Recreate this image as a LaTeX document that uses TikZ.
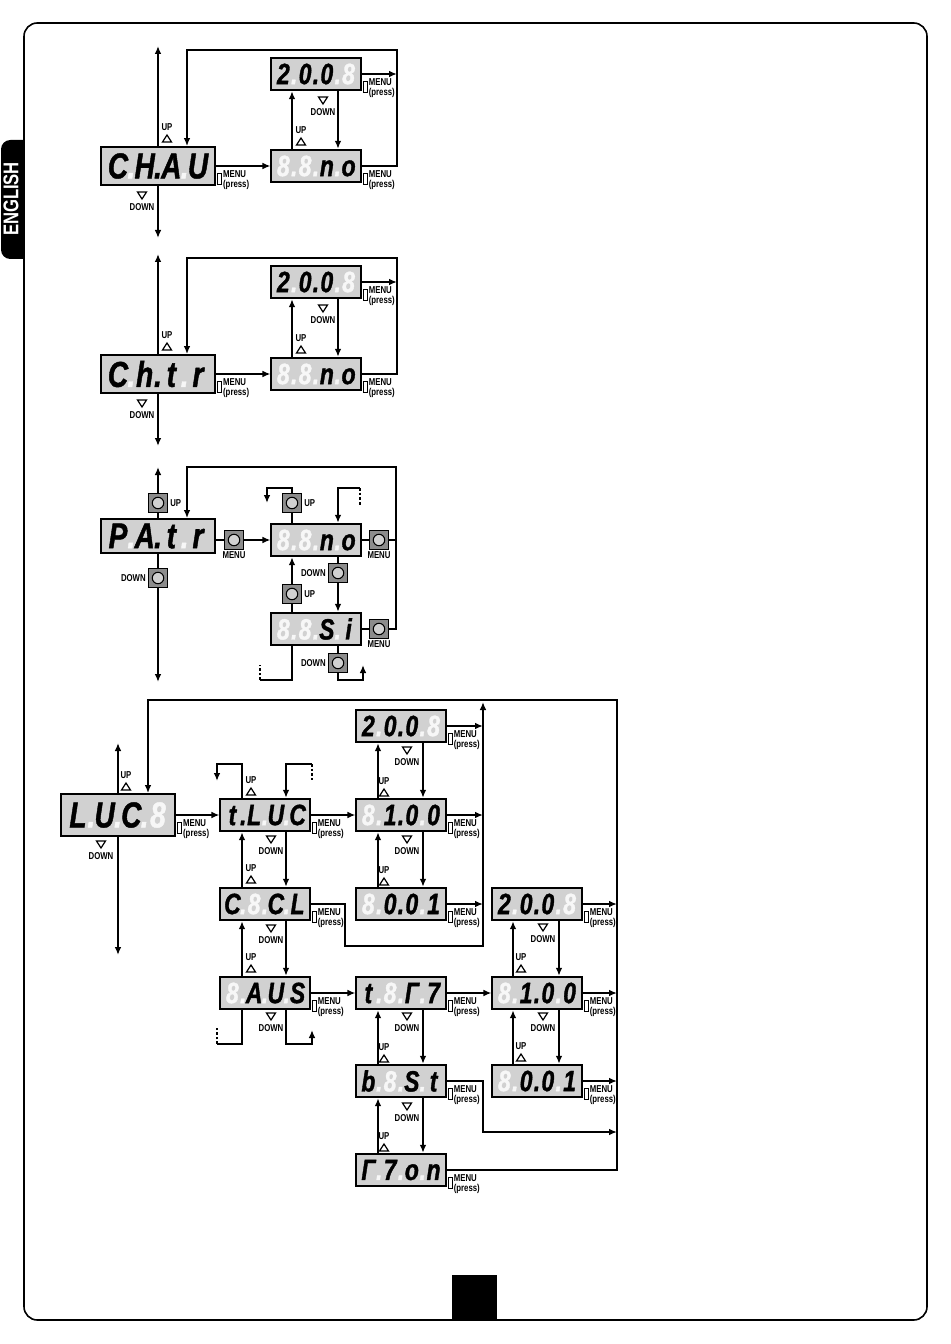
\documentclass[tikz,border=0pt]{standalone}
\usepackage{fontspec}
\setmainfont{Liberation Sans}
\newfontfamily\segfont[FakeStretch=0.78,FakeBold=1.2]{Liberation Sans}
\newfontfamily\lblfont[FakeStretch=0.78]{Liberation Sans}
\usetikzlibrary{arrows.meta,calc}
\definecolor{dispbg}{gray}{0.82}
\definecolor{unlit}{gray}{0.97}
\definecolor{btnbg}{gray}{0.55}
\definecolor{btnin}{gray}{0.82}
\newlength\cw \newlength\dw
\newcommand\segl[1]{\makebox[\cw][c]{#1}}
\newcommand\segu{\makebox[\cw][c]{\color{unlit}8}}
\newcommand\segD{\makebox[\dw][c]{.}}
\newcommand\segd{\makebox[\dw][c]{\color{unlit}.}}
\newcommand\bigseg{\segfont\bfseries\itshape\fontsize{27}{27}\selectfont\setlength\cw{15pt}\setlength\dw{5pt}}
\newcommand\smallseg{\segfont\bfseries\itshape\fontsize{22}{22}\selectfont\setlength\cw{12.3pt}\setlength\dw{4pt}}
\newcounter{lc}
\newcommand\UPl[2]{\stepcounter{lc}\node[lbl] (lab\the\value{lc}) at (#1,#2) {UP};
 \draw[tri] (#1-4.5,#2+15) -- (#1,#2+8) -- (#1+4.5,#2+15) -- cycle;}
\newcommand\DNl[2]{\stepcounter{lc}\node[lbl] (lab\the\value{lc}) at (#1,#2) {DOWN};
 \draw[tri] (#1-4.5,#2-15) -- (#1,#2-8) -- (#1+4.5,#2-15) -- cycle;}
\newcommand\menulbl[1]{\node[mlbl] (ml#1) at ($(#1.east)+(7,14)$) {MENU\\(press)};
 \draw[line width=0.7pt,fill=white] ($(ml#1.west)+(-5,-7)$) rectangle ($(ml#1.west)+(-1.5,4)$);}
\tikzset{
 ln/.style={line width=1.3pt},
 arr/.style={line width=1.3pt,-{Latex[length=6pt,width=5pt]}},
 dsh/.style={line width=1.3pt,dash pattern=on 2pt off 1.5pt},
 mdisp/.style={draw,line width=1.3pt,fill=dispbg,minimum width=85.5pt,minimum height=28.5pt,inner sep=0pt,font=\bigseg},
 sdisp/.style={draw,line width=1.3pt,fill=dispbg,minimum width=67pt,minimum height=24.5pt,inner sep=0pt,font=\smallseg},
 lbl/.style={font=\lblfont\bfseries\fontsize{7.5}{7.6}\selectfont,inner sep=0pt},
 mlbl/.style={lbl,anchor=west,align=left},
 tri/.style={line width=0.9pt,line join=miter},
 btn/.style={draw,line width=1pt,fill=btnbg,minimum size=14pt,inner sep=0pt,
   path picture={\draw[line width=0.8pt,fill=btnin] (path picture bounding box.center) circle[radius=4.3pt];}},
}
\begin{document}
\begin{tikzpicture}[x=0.75pt,y=-0.75pt]
\useasboundingbox (0,0) rectangle (950,1344);
% page frame and tabs
\fill[rounded corners=7pt] (1,140) rectangle (40,259);
\fill[white] (24.6,130) rectangle (45,270);
\draw[line width=1.2pt,rounded corners=10pt] (24,23) rectangle (927,1320);
\fill (452,1275) rectangle (497,1320);
\node[rotate=90,text=white,inner sep=0pt,font=\lblfont\bfseries\fontsize{16}{16}\selectfont] (eng) at (11,199) {ENGLISH};

% ===== Section 1 =====
\node[mdisp] (M1) at (158,166) {\segl{C}\segd\segl{H}\segD\segl{A}\segd\segl{U}};
\node[sdisp] (T1) at (316,74) {\segl{2}\segd\segl{0}\segD\segl{0}\segd\segu};
\node[sdisp] (B1) at (316,166) {\segu\segd\segu\segd\segl{n}\segd\segl{o}};
\coordinate (M1u) at (158,46);
\coordinate (M1d) at (158,238);
\coordinate (R1a) at (397,50);
\coordinate (R1b) at (187,50);
\draw[arr] (M1.north) -- (M1u);
\draw[arr] (M1.south) -- (M1d);
\draw[arr] (B1.east) -| (R1a) -- (R1b) -- (R1b |- M1.north);
\draw[arr] (T1.east) -- (T1.east -| R1a);
\draw[arr] (M1.east) -- (B1.west);
\draw[arr] ($(B1.north)+(-24,0)$) -- ($(T1.south)+(-24,0)$);
\draw[arr] ($(T1.south)+(22,0)$) -- ($(B1.north)+(22,0)$);
\UPl{167}{127} \DNl{142}{207} \UPl{301}{130} \DNl{323}{112}
\menulbl{M1} \menulbl{T1} \menulbl{B1}

% ===== Section 2 =====
\node[mdisp] (M2) at (158,374) {\segl{C}\segd\segl{h}\segD\segl{t}\segd\segl{r}};
\node[sdisp] (T2) at (316,282) {\segl{2}\segd\segl{0}\segD\segl{0}\segd\segu};
\node[sdisp] (B2) at (316,374) {\segu\segd\segu\segd\segl{n}\segd\segl{o}};
\coordinate (M2u) at (158,254);
\coordinate (M2d) at (158,446);
\coordinate (R2a) at (397,258);
\coordinate (R2b) at (187,258);
\draw[arr] (M2.north) -- (M2u);
\draw[arr] (M2.south) -- (M2d);
\draw[arr] (B2.east) -| (R2a) -- (R2b) -- (R2b |- M2.north);
\draw[arr] (T2.east) -- (T2.east -| R2a);
\draw[arr] (M2.east) -- (B2.west);
\draw[arr] ($(B2.north)+(-24,0)$) -- ($(T2.south)+(-24,0)$);
\draw[arr] ($(T2.south)+(22,0)$) -- ($(B2.north)+(22,0)$);
\UPl{167}{335} \DNl{142}{415} \UPl{301}{338} \DNl{323}{320}
\menulbl{M2} \menulbl{T2} \menulbl{B2}

% ===== Section 3 =====
\node[mdisp,minimum height=25.5pt] (M3) at (158,536) {\segl{P}\segd\segl{A}\segD\segl{t}\segd\segl{r}};
\node[sdisp] (N3) at (316,540) {\segu\segd\segu\segd\segl{n}\segd\segl{o}};
\node[sdisp] (S3) at (316,629) {\segu\segd\segu\segd\segl{S}\segd\segl{i}};
\node[btn] (UB1) at (158,503) {};
\node[btn] (DB1) at (158,578) {};
\node[btn] (MB1) at (234,540) {};
\node[btn] (MB2) at (379,540) {};
\node[btn] (MB3) at (379,629) {};
\node[btn] (UB2) at (292,503) {};
\node[btn] (DB2) at (338,573) {};
\node[btn] (UB3) at (292,594) {};
\node[btn] (DB3) at (338,663) {};
\node[lbl,anchor=west] (tUB1) at ($(UB1.east)+(2,0)$) {UP};
\node[lbl,anchor=east] (tDB1) at ($(DB1.west)+(-2,0)$) {DOWN};
\node[lbl,anchor=north] (tMB1) at ($(MB1.south)+(0,1.5)$) {MENU};
\node[lbl,anchor=north] (tMB2) at ($(MB2.south)+(0,1.5)$) {MENU};
\node[lbl,anchor=north] (tMB3) at ($(MB3.south)+(0,1.5)$) {MENU};
\node[lbl,anchor=west] (tUB2) at ($(UB2.east)+(2,0)$) {UP};
\node[lbl,anchor=east] (tDB2) at ($(DB2.west)+(-2,0)$) {DOWN};
\node[lbl,anchor=west] (tUB3) at ($(UB3.east)+(2,0)$) {UP};
\node[lbl,anchor=east] (tDB3) at ($(DB3.west)+(-2,0)$) {DOWN};
\coordinate (M3u) at (158,467);
\coordinate (M3d) at (158,682);
\coordinate (R3a) at (396,467);
\coordinate (R3b) at (187,467);
\draw[ln] (M3.north) -- (UB1.south);
\draw[arr] (UB1.north) -- (M3u);
\draw[ln] (M3.south) -- (DB1.north);
\draw[arr] (DB1.south) -- (M3d);
\draw[arr] (MB3.east) -| (R3a) -- (R3b) -- (R3b |- M3.north);
\draw[ln] (MB2.east) -- (MB2.east -| R3a);
\draw[ln] (N3.east) -- (MB2.west);
\draw[ln] (S3.east) -- (MB3.west);
\draw[ln] (M3.east |- MB1) -- (MB1.west);
\draw[arr] (MB1.east) -- (N3.west);
\coordinate (L3b) at (267,488);
\coordinate (L3c) at (267,503);
\draw[ln] ($(N3.north)+(-24,0)$) -- (UB2.south);
\draw[arr] (UB2.north) |- (L3b) -- (L3c);
\coordinate (L3d) at (360,488);
\coordinate (L3e) at (360,505);
\draw[dsh] (L3d) -- (L3e);
\draw[arr] (L3d) -| ($(N3.north)+(22,0)$);
\draw[ln] ($(N3.south)+(22,0)$) -- (DB2.north);
\draw[arr] (DB2.south) -- ($(S3.north)+(22,0)$);
\draw[ln] ($(S3.north)+(-24,0)$) -- (UB3.south);
\draw[arr] (UB3.north) -- ($(N3.south)+(-24,0)$);
\coordinate (L3f) at (260,680);
\coordinate (L3g) at (260,665);
\draw[ln] ($(S3.south)+(-24,0)$) |- (L3f);
\draw[dsh] (L3f) -- (L3g);
\coordinate (L3h) at (363,680);
\coordinate (L3i) at (363,665);
\draw[ln] ($(S3.south)+(22,0)$) -- (DB3.north);
\draw[arr] (DB3.south) |- (L3h) -- (L3i);

% ===== Section 4 =====
\node[mdisp,minimum height=31.5pt] (M4) at (118,815) {\segl{L}\segd\segl{U}\segd\segl{C}\segd\segu};
\node[sdisp] (A1) at (265,815) {\segl{t}\segD\segl{L}\segd\segl{U}\segd\segl{C}};
\node[sdisp] (A2) at (265,904) {\segl{C}\segd\segu\segd\segl{C}\segd\segl{L}};
\node[sdisp] (A3) at (265,993) {\segu\segd\segl{A}\segd\segl{U}\segd\segl{S}};
\node[sdisp] (C1) at (401,726) {\segl{2}\segd\segl{0}\segD\segl{0}\segd\segu};
\node[sdisp] (C2) at (401,815) {\segu\segd\segl{1}\segD\segl{0}\segd\segl{0}};
\node[sdisp] (C3) at (401,904) {\segu\segd\segl{0}\segD\segl{0}\segd\segl{1}};
\node[sdisp] (C4) at (401,993) {\segl{t}\segd\segu\segd\segl{Γ}\segd\segl{7}};
\node[sdisp] (C5) at (401,1081) {\segl{b}\segd\segu\segd\segl{S}\segd\segl{t}};
\node[sdisp] (C6) at (401,1170) {\segl{Γ}\segd\segl{7}\segd\segl{o}\segd\segl{n}};
\node[sdisp] (E1) at (537,904) {\segl{2}\segd\segl{0}\segD\segl{0}\segd\segu};
\node[sdisp] (E2) at (537,993) {\segu\segd\segl{1}\segD\segl{0}\segd\segl{0}};
\node[sdisp] (E3) at (537,1081) {\segu\segd\segl{0}\segD\segl{0}\segd\segl{1}};
\coordinate (M4u) at (118,743);
\coordinate (M4d) at (118,955);
\draw[arr] (M4.north) -- (M4u);
\draw[arr] (M4.south) -- (M4d);
\draw[arr] (M4.east) -- (A1.west);
\draw[arr] (A1.east) -- (C2.west);
\draw[arr] (A3.east) -- (C4.west);
\draw[arr] (C4.east) -- (E2.west);
\coordinate (P2) at (217,764);
\coordinate (P3) at (217,781);
\draw[arr] ($(A1.north)+(-23,0)$) |- (P2) -- (P3);
\coordinate (P4) at (312,764);
\coordinate (P5) at (312,780);
\draw[dsh] (P4) -- (P5);
\draw[arr] (P4) -| ($(A1.north)+(21,0)$);
\draw[arr] ($(A1.south)+(21,0)$) -- ($(A2.north)+(21,0)$);
\draw[arr] ($(A2.north)+(-23,0)$) -- ($(A1.south)+(-23,0)$);
\draw[arr] ($(A2.south)+(21,0)$) -- ($(A3.north)+(21,0)$);
\draw[arr] ($(A3.north)+(-23,0)$) -- ($(A2.south)+(-23,0)$);
\coordinate (P6) at (217,1044);
\coordinate (P7) at (217,1028);
\draw[ln] ($(A3.south)+(-23,0)$) |- (P6);
\draw[dsh] (P6) -- (P7);
\coordinate (P8) at (312,1044);
\coordinate (P9) at (312,1030);
\draw[arr] ($(A3.south)+(21,0)$) |- (P8) -- (P9);
\coordinate (Q1) at (345,946);
\coordinate (Q2) at (483,946);
\coordinate (Q3) at (483,702);
\draw[arr] (A2.east) -| (Q1) -- (Q2) -- (Q3);
\draw[arr] (C1.east) -- (C1.east -| Q2);
\draw[arr] (C2.east) -- (C2.east -| Q2);
\draw[arr] (C3.east) -- (C3.east -| Q2);
\draw[arr] ($(C1.south)+(22,0)$) -- ($(C2.north)+(22,0)$);
\draw[arr] ($(C2.north)+(-23,0)$) -- ($(C1.south)+(-23,0)$);
\draw[arr] ($(C2.south)+(22,0)$) -- ($(C3.north)+(22,0)$);
\draw[arr] ($(C3.north)+(-23,0)$) -- ($(C2.south)+(-23,0)$);
\draw[arr] ($(C4.south)+(22,0)$) -- ($(C5.north)+(22,0)$);
\draw[arr] ($(C5.north)+(-23,0)$) -- ($(C4.south)+(-23,0)$);
\draw[arr] ($(C5.south)+(22,0)$) -- ($(C6.north)+(22,0)$);
\draw[arr] ($(C6.north)+(-23,0)$) -- ($(C5.south)+(-23,0)$);
\coordinate (Q4) at (483,1132);
\coordinate (Q5) at (617,1132);
\draw[arr] (C5.east) -| (Q4) -- (Q5);
\coordinate (Q6) at (617,700);
\coordinate (Q7) at (148,700);
\draw[arr] (C6.east) -| (Q6) -- (Q7) -- (Q7 |- M4.north);
\draw[arr] (E1.east) -- (E1.east -| Q5);
\draw[arr] (E2.east) -- (E2.east -| Q5);
\draw[arr] (E3.east) -- (E3.east -| Q5);
\draw[arr] ($(E1.south)+(22,0)$) -- ($(E2.north)+(22,0)$);
\draw[arr] ($(E2.north)+(-24,0)$) -- ($(E1.south)+(-24,0)$);
\draw[arr] ($(E2.south)+(22,0)$) -- ($(E3.north)+(22,0)$);
\draw[arr] ($(E3.north)+(-24,0)$) -- ($(E2.south)+(-24,0)$);
\UPl{126}{775} \DNl{101}{856}
\UPl{251}{780} \DNl{271}{851} \UPl{251}{868} \DNl{271}{940} \UPl{251}{957} \DNl{271}{1028}
\DNl{407}{762} \UPl{384}{781} \DNl{407}{851} \UPl{384}{870}
\DNl{407}{1028} \UPl{384}{1047} \DNl{407}{1118} \UPl{384}{1136}
\DNl{543}{939} \UPl{521}{957} \DNl{543}{1028} \UPl{521}{1046}
\menulbl{M4} \menulbl{A1} \menulbl{A2} \menulbl{A3}
\menulbl{C1} \menulbl{C2} \menulbl{C3} \menulbl{C4} \menulbl{C5} \menulbl{C6}
\menulbl{E1} \menulbl{E2} \menulbl{E3}
\end{tikzpicture}
\end{document}
